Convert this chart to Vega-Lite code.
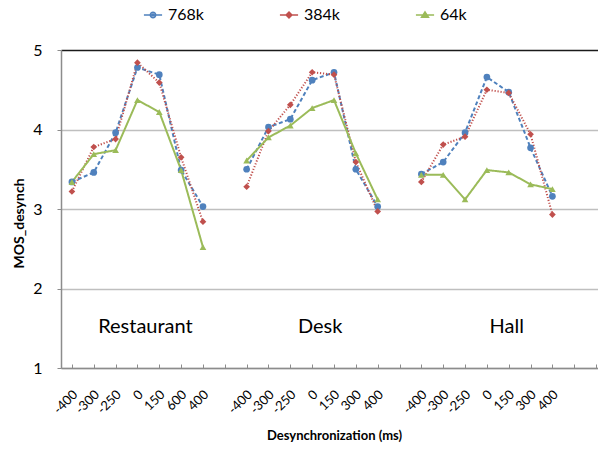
{
  "$schema": "https://vega.github.io/schema/vega-lite/v6.json",
  "width": 546,
  "height": 318,
  "autosize": {"type": "none"},
  "padding": {"left": 61, "top": 50, "right": 0, "bottom": 81},
  "background": "white",
  "config": {
    "font": "Lato",
    "view": {"stroke": null},
    "axis": {"labelFont": "Lato", "titleFont": "Lato", "labelColor": "black", "titleColor": "black", "domainColor": "#8c8c8c", "tickColor": "#8c8c8c", "domainWidth": 1.5},
    "legend": {"labelFont": "Lato", "labelFontSize": 16, "labelColor": "black"}
  },
  "resolve": {"scale": {"color": "independent", "shape": "independent", "strokeDash": "independent"}},
  "datasets": {
    "series": [
      {"group": "Restaurant", "key": "R|-400", "rate": "768k", "mos": 3.34},
      {"group": "Restaurant", "key": "R|-300", "rate": "768k", "mos": 3.46},
      {"group": "Restaurant", "key": "R|-250", "rate": "768k", "mos": 3.96},
      {"group": "Restaurant", "key": "R|0", "rate": "768k", "mos": 4.78},
      {"group": "Restaurant", "key": "R|150", "rate": "768k", "mos": 4.69},
      {"group": "Restaurant", "key": "R|600", "rate": "768k", "mos": 3.49},
      {"group": "Restaurant", "key": "R|400", "rate": "768k", "mos": 3.03},
      {"group": "Restaurant", "key": "R|-400", "rate": "384k", "mos": 3.22},
      {"group": "Restaurant", "key": "R|-300", "rate": "384k", "mos": 3.78},
      {"group": "Restaurant", "key": "R|-250", "rate": "384k", "mos": 3.88},
      {"group": "Restaurant", "key": "R|0", "rate": "384k", "mos": 4.84},
      {"group": "Restaurant", "key": "R|150", "rate": "384k", "mos": 4.59},
      {"group": "Restaurant", "key": "R|600", "rate": "384k", "mos": 3.65},
      {"group": "Restaurant", "key": "R|400", "rate": "384k", "mos": 2.84},
      {"group": "Restaurant", "key": "R|-400", "rate": "64k", "mos": 3.34},
      {"group": "Restaurant", "key": "R|-300", "rate": "64k", "mos": 3.69},
      {"group": "Restaurant", "key": "R|-250", "rate": "64k", "mos": 3.74},
      {"group": "Restaurant", "key": "R|0", "rate": "64k", "mos": 4.37},
      {"group": "Restaurant", "key": "R|150", "rate": "64k", "mos": 4.22},
      {"group": "Restaurant", "key": "R|600", "rate": "64k", "mos": 3.49},
      {"group": "Restaurant", "key": "R|400", "rate": "64k", "mos": 2.52},
      {"group": "Desk", "key": "D|-400", "rate": "768k", "mos": 3.50},
      {"group": "Desk", "key": "D|-300", "rate": "768k", "mos": 4.03},
      {"group": "Desk", "key": "D|-250", "rate": "768k", "mos": 4.13},
      {"group": "Desk", "key": "D|0", "rate": "768k", "mos": 4.62},
      {"group": "Desk", "key": "D|150", "rate": "768k", "mos": 4.72},
      {"group": "Desk", "key": "D|300", "rate": "768k", "mos": 3.50},
      {"group": "Desk", "key": "D|400", "rate": "768k", "mos": 3.03},
      {"group": "Desk", "key": "D|-400", "rate": "384k", "mos": 3.28},
      {"group": "Desk", "key": "D|-300", "rate": "384k", "mos": 3.98},
      {"group": "Desk", "key": "D|-250", "rate": "384k", "mos": 4.31},
      {"group": "Desk", "key": "D|0", "rate": "384k", "mos": 4.72},
      {"group": "Desk", "key": "D|150", "rate": "384k", "mos": 4.69},
      {"group": "Desk", "key": "D|300", "rate": "384k", "mos": 3.59},
      {"group": "Desk", "key": "D|400", "rate": "384k", "mos": 2.97},
      {"group": "Desk", "key": "D|-400", "rate": "64k", "mos": 3.61},
      {"group": "Desk", "key": "D|-300", "rate": "64k", "mos": 3.90},
      {"group": "Desk", "key": "D|-250", "rate": "64k", "mos": 4.05},
      {"group": "Desk", "key": "D|0", "rate": "64k", "mos": 4.27},
      {"group": "Desk", "key": "D|150", "rate": "64k", "mos": 4.37},
      {"group": "Desk", "key": "D|300", "rate": "64k", "mos": 3.70},
      {"group": "Desk", "key": "D|400", "rate": "64k", "mos": 3.12},
      {"group": "Hall", "key": "H|-400", "rate": "768k", "mos": 3.44},
      {"group": "Hall", "key": "H|-300", "rate": "768k", "mos": 3.59},
      {"group": "Hall", "key": "H|-250", "rate": "768k", "mos": 3.96},
      {"group": "Hall", "key": "H|0", "rate": "768k", "mos": 4.66},
      {"group": "Hall", "key": "H|150", "rate": "768k", "mos": 4.47},
      {"group": "Hall", "key": "H|300", "rate": "768k", "mos": 3.77},
      {"group": "Hall", "key": "H|400", "rate": "768k", "mos": 3.16},
      {"group": "Hall", "key": "H|-400", "rate": "384k", "mos": 3.34},
      {"group": "Hall", "key": "H|-300", "rate": "384k", "mos": 3.81},
      {"group": "Hall", "key": "H|-250", "rate": "384k", "mos": 3.91},
      {"group": "Hall", "key": "H|0", "rate": "384k", "mos": 4.50},
      {"group": "Hall", "key": "H|150", "rate": "384k", "mos": 4.46},
      {"group": "Hall", "key": "H|300", "rate": "384k", "mos": 3.94},
      {"group": "Hall", "key": "H|400", "rate": "384k", "mos": 2.93},
      {"group": "Hall", "key": "H|-400", "rate": "64k", "mos": 3.43},
      {"group": "Hall", "key": "H|-300", "rate": "64k", "mos": 3.43},
      {"group": "Hall", "key": "H|-250", "rate": "64k", "mos": 3.12},
      {"group": "Hall", "key": "H|0", "rate": "64k", "mos": 3.49},
      {"group": "Hall", "key": "H|150", "rate": "64k", "mos": 3.46},
      {"group": "Hall", "key": "H|300", "rate": "64k", "mos": 3.31},
      {"group": "Hall", "key": "H|400", "rate": "64k", "mos": 3.25}
    ],
    "labels": [
      {"key": "R|0", "label": "Restaurant"},
      {"key": "D|0", "label": "Desk"},
      {"key": "H|150", "label": "Hall"}
    ]
  },
  "layer": [
    {
      "data": {"name": "series"},
      "mark": {"type": "line", "strokeWidth": 2},
      "encoding": {
        "x": {
          "field": "key",
          "type": "ordinal",
          "sort": ["R|-400","R|-300","R|-250","R|0","R|150","R|600","R|400","gap1","D|-400","D|-300","D|-250","D|0","D|150","D|300","D|400","gap2","H|-400","H|-300","H|-250","H|0","H|150","H|300","H|400","gap3","gap4"],
          "scale": {
            "type": "point",
            "padding": 0.5,
            "domain": ["R|-400","R|-300","R|-250","R|0","R|150","R|600","R|400","gap1","D|-400","D|-300","D|-250","D|0","D|150","D|300","D|400","gap2","H|-400","H|-300","H|-250","H|0","H|150","H|300","H|400","gap3","gap4"]
          },
          "axis": {
            "title": "Desynchronization (ms)",
            "titleFontSize": 13,
            "titleFontWeight": "bold",
            "titlePadding": 13,
            "labelExpr": "indexof(datum.value, '|') >= 0 ? split(datum.value, '|')[1] : ''",
            "labelAngle": -45,
            "labelAlign": "right",
            "labelBaseline": "middle",
            "labelFontSize": 13,
            "labelPadding": 28,
            "labelOffset": 3,
            "tickSize": -4,
            "grid": false
          }
        },
        "y": {
          "field": "mos",
          "type": "quantitative",
          "scale": {"domain": [1, 5], "nice": false, "zero": false},
          "axis": {
            "title": "MOS_desynch",
            "values": [1, 2, 3, 4, 5],
            "format": "d",
            "titleFontSize": 14,
            "titleFontWeight": "bold",
            "titlePadding": 6,
            "titleY": 173,
            "labelFontSize": 16,
            "labelPadding": 15,
            "tickSize": 4,
            "grid": true,
            "gridWidth": 1.5,
            "gridColor": {"condition": {"test": "datum.value === 5", "value": "#1a1a1a"}, "value": "#bfbfbf"}
          }
        },
        "detail": {"field": "group"},
        "color": {"field": "rate", "type": "nominal", "legend": null, "scale": {"domain": ["768k", "384k", "64k"], "range": ["#4F81BD", "#C0504D", "#9BBB59"]}},
        "strokeDash": {"field": "rate", "type": "nominal", "legend": null, "scale": {"domain": ["768k", "384k", "64k"], "range": [[4, 2.5], [1.2, 1.8], [1, 0]]}}
      }
    },
    {
      "data": {"name": "series"},
      "mark": {"type": "point", "filled": true, "size": 45, "opacity": 1},
      "encoding": {
        "x": {"field": "key", "type": "ordinal"},
        "y": {"field": "mos", "type": "quantitative"},
        "color": {"field": "rate", "type": "nominal", "legend": null, "scale": {"domain": ["768k", "384k", "64k"], "range": ["#4F81BD", "#C0504D", "#9BBB59"]}},
        "shape": {"field": "rate", "type": "nominal", "legend": null, "scale": {"domain": ["768k", "384k", "64k"], "range": ["circle", "diamond", "triangle-up"]}}
      }
    },
    {
      "data": {"values": []},
      "mark": {"type": "point", "filled": false, "strokeWidth": 1.5, "opacity": 1},
      "encoding": {
        "color": {
          "field": "rate", "type": "nominal", "title": null,
          "scale": {"domain": ["768k", "384k", "64k"], "range": ["#4F81BD", "#C0504D", "#9BBB59"]},
          "legend": {"orient": "none", "legendX": 82, "legendY": -45, "direction": "horizontal", "columnPadding": 72, "symbolSize": 330, "labelOffset": 5, "symbolStrokeWidth": 1.5}
        },
        "shape": {
          "field": "rate", "type": "nominal", "title": null,
          "scale": {
            "domain": ["768k", "384k", "64k"],
            "range": [
              "M-1,0H1M-0.3,0A0.3,0.3 0 1,1 0.3,0A0.3,0.3 0 1,1 -0.3,0ZM-0.12,0A0.12,0.12 0 1,1 0.12,0A0.12,0.12 0 1,1 -0.12,0Z",
              "M-1,0H1M0,-0.32L0.32,0L0,0.32L-0.32,0ZM0,-0.13L0.13,0L0,0.13L-0.13,0Z",
              "M-1,0H1M0,-0.34L0.38,0.25L-0.38,0.25ZM0,-0.1L0.13,0.12L-0.13,0.12Z"
            ]
          },
          "legend": {"orient": "none", "legendX": 82, "legendY": -45, "direction": "horizontal", "columnPadding": 72, "symbolSize": 330, "labelOffset": 5, "symbolStrokeWidth": 1.5}
        }
      }
    },
    {
      "data": {"name": "labels"},
      "transform": [{"filter": "datum.label !== 'Hall'"}],
      "mark": {"type": "text", "fontSize": 20, "font": "Lato", "color": "black", "baseline": "middle", "align": "center", "dx": 8},
      "encoding": {
        "x": {"field": "key", "type": "ordinal"},
        "y": {"datum": 1.52},
        "text": {"field": "label", "type": "nominal"}
      }
    },
    {
      "data": {"name": "labels"},
      "transform": [{"filter": "datum.label === 'Hall'"}],
      "mark": {"type": "text", "fontSize": 20, "font": "Lato", "color": "black", "baseline": "middle", "align": "center", "dx": -2},
      "encoding": {
        "x": {"field": "key", "type": "ordinal"},
        "y": {"datum": 1.52},
        "text": {"field": "label", "type": "nominal"}
      }
    }
  ]
}
